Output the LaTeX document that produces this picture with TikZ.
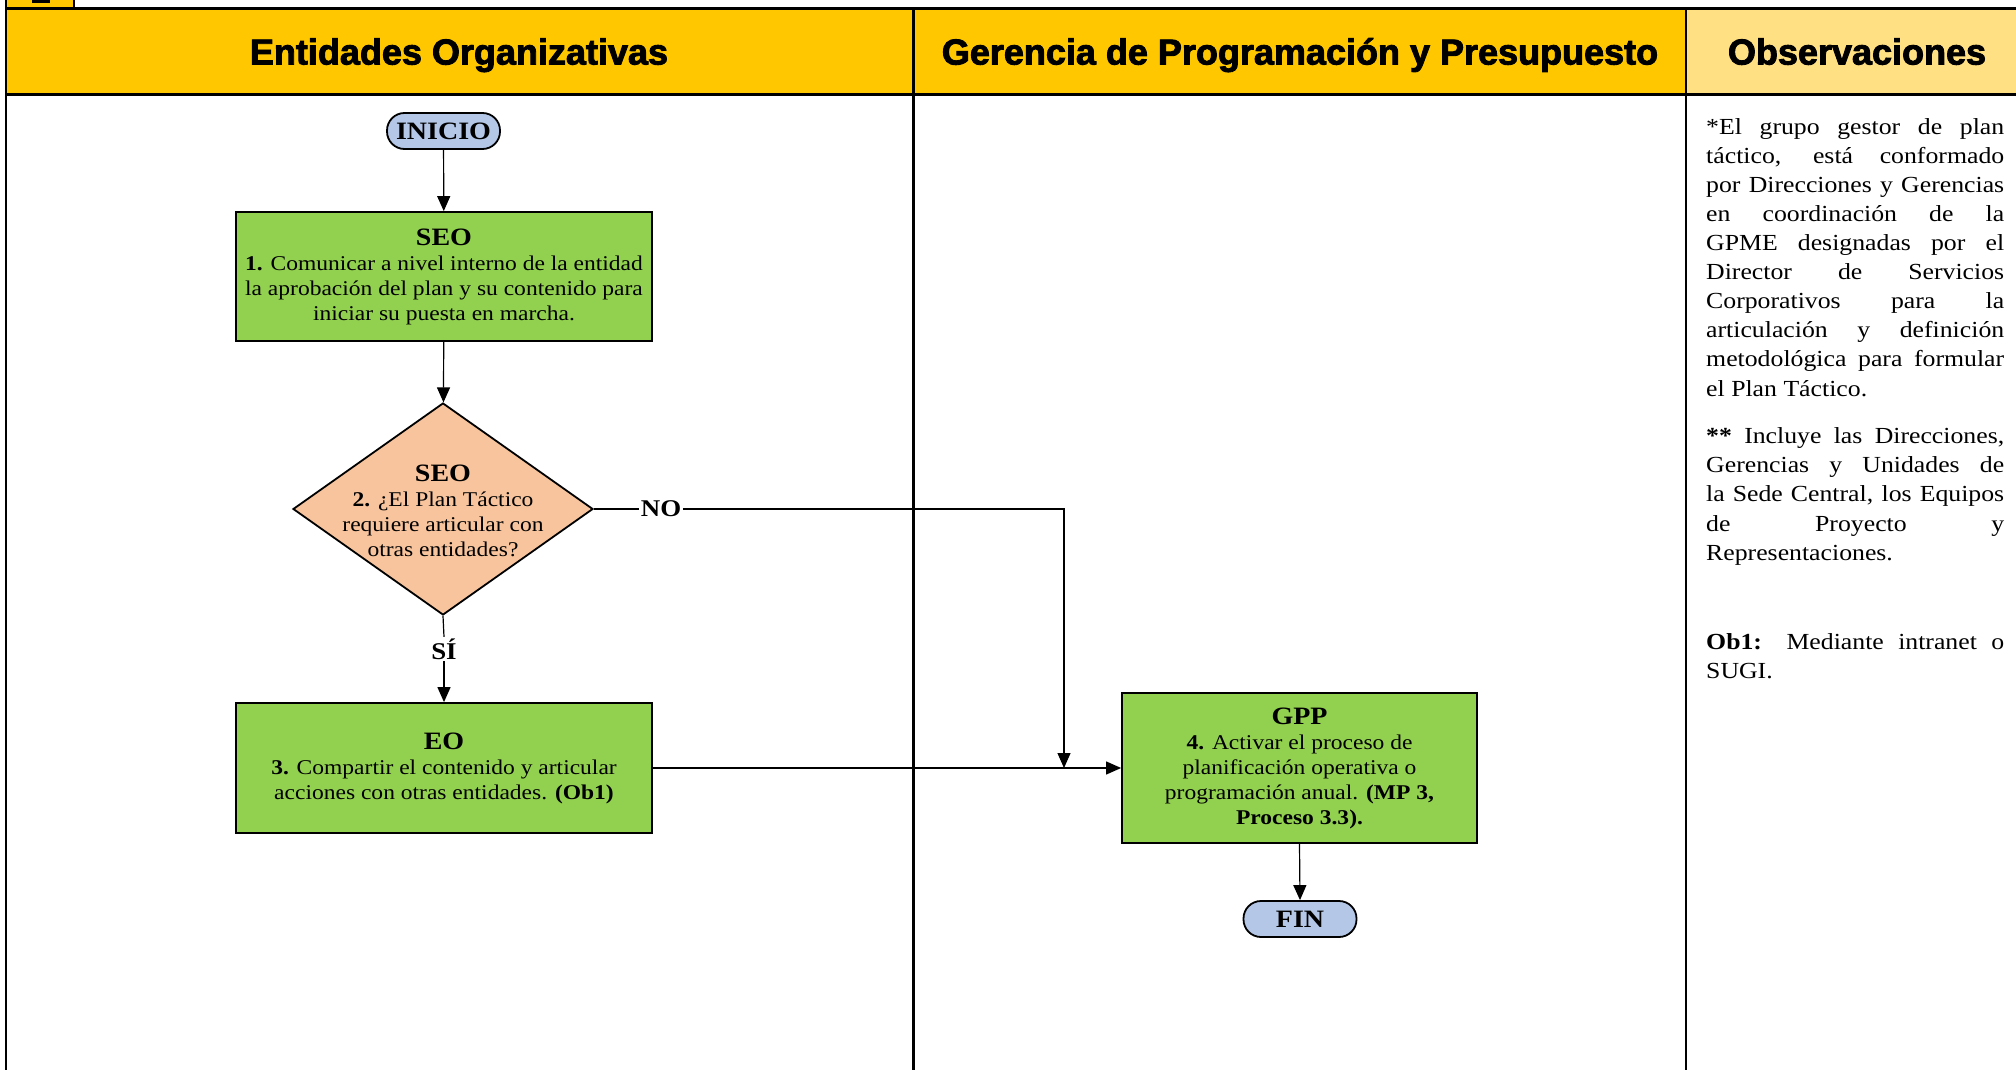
\documentclass[tikz,border=0pt]{standalone}
\usepackage{fontspec}
\setmainfont{Liberation Serif}[FakeStretch=1.12]
\newfontfamily\hdrfont{Liberation Sans}[BoldFeatures={FakeBold=2.5}]
\usetikzlibrary{shapes.geometric,arrows.meta}
\definecolor{hdryellow}{HTML}{FFC700}
\definecolor{obsyellow}{HTML}{FFE083}
\definecolor{procgreen}{HTML}{92D050}
\definecolor{decorange}{HTML}{F8C49D}
\definecolor{termblue}{HTML}{B4C7E7}
\begin{document}
\begin{tikzpicture}[x=1pt,y=-1pt,
  conn/.style={line width=1.2pt, draw=black},
  arr/.style={conn, -{Triangle[length=15pt,width=13pt]}},
  procbox/.style={draw=black, line width=1.8pt, fill=procgreen, minimum width=416pt, minimum height=129pt, align=center, inner sep=0pt, font=\fontsize{21}{25}\selectfont},
  term/.style={draw=black, line width=1.8pt, fill=termblue, rectangle, rounded corners=17.5pt, minimum width=113pt, minimum height=36pt, inner sep=0pt, font=\bfseries\fontsize{25}{25}\selectfont},
  decision/.style={diamond, draw=black, line width=1.8pt, fill=decorange, minimum width=300pt, minimum height=212pt, inner sep=0pt},
  dtext/.style={align=center, inner sep=0pt, font=\fontsize{21}{25}\selectfont},
  hdr/.style={anchor=base, inner sep=0pt, font=\hdrfont\bfseries\fontsize{36}{36}\selectfont},
  lbl/.style={font=\bfseries\fontsize{24}{24}\selectfont, inner sep=1.5pt},
  obs/.style={anchor=north west, align=left, inner sep=0pt, font=\fontsize{23}{29.1}\selectfont}
]
\useasboundingbox (0,0) rectangle (2016,1070);
\fill[white] (0,0) rectangle (2016,1070);
% header bands
\fill[hdryellow] (6,8.7) rectangle (1686,94.5);
\fill[obsyellow] (1686,8.7) rectangle (2016,94.5);
% top-left fragment
\fill[hdryellow] (6,0) rectangle (74,8.7);
\fill[black] (32,0) rectangle (50,3.5);
\draw[line width=1.5pt] (74,0) -- (74,8.7);
% frame lines
\draw[line width=2.8pt] (5,8.7) -- (2016,8.7);
\draw[line width=3pt] (5,94.5) -- (2016,94.5);
\draw[line width=2pt] (6,0) -- (6,1070);
\draw[line width=2.2pt] (913.5,8.7) -- (913.5,1070);
\draw[line width=1.6pt] (1686,8.7) -- (1686,1070);
% header texts
\node[hdr] (h1) at (459,64.5) {Entidades Organizativas};
\node[hdr] (h2) at (1300,64.5) {Gerencia de Programación y Presupuesto};
\node[hdr] (h3) at (1857,64.5) {Observaciones};
% flow nodes
\node[term] (start) at (443.5,131) {INICIO};
\node[procbox] (p1) at (444,276.5) {{\fontsize{25}{25}\selectfont\bfseries SEO}\\\textbf{1.} Comunicar a nivel interno de la entidad\\la aprobación del plan y su contenido para\\iniciar su puesta en marcha.};
\node[decision] (d2) at (443,509) {};
\node[dtext] (d2t) at (443,510.5) {{\fontsize{25}{25}\selectfont\bfseries SEO}\\\textbf{2.} ¿El Plan Táctico\\requiere articular con\\otras entidades?};
\node[lbl] (no) at (661,509) {NO};
\node[lbl] (si) at (444,649) {SÍ};
\node[procbox, minimum height=130pt] (p3) at (444,768) {{\fontsize{25}{25}\selectfont\bfseries EO}\\\textbf{3.} Compartir el contenido y articular\\acciones con otras entidades. \textbf{(Ob1)}};
\node[procbox, minimum width=355pt, minimum height=150pt] (p4) at (1299.5,768) {{\fontsize{25}{25}\selectfont\bfseries GPP}\\\textbf{4.} Activar el proceso de\\planificación operativa o\\programación anual. \textbf{(MP 3,}\\\textbf{Proceso 3.3).}};
\node[term] (end) at (1300,919) {FIN};
\coordinate (j) at (1064,768);
% connectors
\draw[arr] (start) -- (p1);
\draw[arr] (p1) -- (d2);
\draw[conn] (d2.east) -- (no.west);
\draw[arr] (no.east) -| (j);
\draw[conn] (d2.south) -- (si.north);
\draw[arr] (si.south) -- (p3.north);
\draw[arr] (p3.east) -- (p4.west);
\draw[arr] (p4.south) -- (end.north);
% observations
\node[obs] (ob1) at (1706,113.6) {\strut\makebox[298pt][s]{*El grupo gestor de plan}\\
\makebox[298pt][s]{táctico, está conformado}\\
\makebox[298pt][s]{por Direcciones y Gerencias}\\
\makebox[298pt][s]{en coordinación de la}\\
\makebox[298pt][s]{GPME designadas por el}\\
\makebox[298pt][s]{Director de Servicios}\\
\makebox[298pt][s]{Corporativos para la}\\
\makebox[298pt][s]{articulación y definición}\\
\makebox[298pt][s]{metodológica para formular}\\
el Plan Táctico.};
\node[obs] (ob2) at (1706,423.2) {\strut\makebox[298pt][s]{\textbf{**} Incluye las Direcciones,}\\
\makebox[298pt][s]{Gerencias y Unidades de}\\
\makebox[298pt][s]{la Sede Central, los Equipos}\\
\makebox[298pt][s]{de Proyecto y}\\
Representaciones.};
\node[obs] (ob3) at (1706,628.9) {\strut\makebox[298pt][s]{\textbf{Ob1:} Mediante intranet o}\\
SUGI.};
\end{tikzpicture}
\end{document}
